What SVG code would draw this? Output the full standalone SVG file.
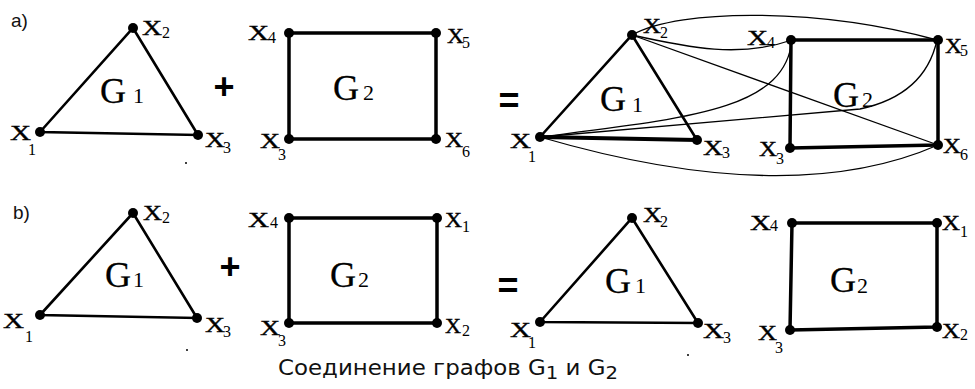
<svg xmlns="http://www.w3.org/2000/svg" width="975" height="389" viewBox="0 0 975 389">
<style>
.bg{fill:#fff}
.tri{stroke:#000;stroke-width:2.6;fill:none;stroke-linecap:round}
.rect{stroke:#000;stroke-width:3.5;fill:none;stroke-linejoin:round}
.thin{stroke:#000;stroke-width:1.3;fill:none}
.dot{fill:#000}
.X{font-family:"Liberation Serif","Times New Roman",serif;font-size:21px;fill:#000;stroke:#000;stroke-width:0.4}
.s{font-family:"Liberation Serif","Times New Roman",serif;font-size:16px;fill:#000}
.G{font-family:"Liberation Serif","Times New Roman",serif;font-size:36px;fill:#000;stroke:#000;stroke-width:0.3}
.Gs{font-family:"Liberation Serif","Times New Roman",serif;font-size:22px;fill:#000}
.op{font-family:"Liberation Sans",Arial,sans-serif;font-size:36px;font-weight:bold;fill:#000}
.lab{font-family:"Liberation Sans",Arial,sans-serif;font-size:19px;fill:#111}
.cap{font-family:"DejaVu Sans","Liberation Sans",sans-serif;font-size:21px;fill:#111}
</style>
<rect class="bg" x="0" y="0" width="975" height="389"/>

<g id="connectors">
  <path class="tri" d="M40,132 L133,28 L198,135 Z"/>
  <path class="rect" d="M289,33 L436,33 L436,139 L289,139 Z"/>
  <path class="tri" d="M540,137 L632,35 L697,140"/>
  <path class="tri" d="M540,137 L697,140" style="stroke-width:4"/>
  <path class="rect" d="M791,40 L938,40 L938,145 L790,148 Z"/>
  <path class="thin" d="M632,35 C680,8 820,8 937,40"/>
  <path class="thin" d="M632,35 C690,48 740,58 792,40"/>
  <path class="thin" d="M632,35 L938,145"/>
  <path class="thin" d="M540,137 C690,118 785,110 792,40"/>
  <path class="thin" d="M540,137 L860,109 Q925,95 937,40"/>
  <path class="thin" d="M540,137 Q790,210 938,145"/>
  <path class="tri" d="M40,315 L133,213 L197,318 Z"/>
  <path class="rect" d="M289,218 L437,218 L437,323 L289,323 Z"/>
  <path class="tri" d="M540,322 L632,218 L698,323 Z"/>
  <path class="rect" d="M792,223 L937,223 L937,327 L790,330 Z"/>
</g>

<text class="lab" x="11" y="27">a)</text>
<text class="lab" x="13" y="219">b)</text>

<g id="a1-x1"><circle class="dot" cx="40" cy="132" r="5"/><text class="X" x="10" y="140" textLength="21" lengthAdjust="spacingAndGlyphs">X</text><text class="s" x="28" y="155">1</text></g>
<g id="a1-x2"><circle class="dot" cx="133" cy="28" r="5"/><text class="X" x="142" y="35" textLength="20" lengthAdjust="spacingAndGlyphs">X</text><text class="s" x="162" y="38">2</text></g>
<g id="a1-x3"><circle class="dot" cx="198" cy="135" r="5"/><text class="X" x="205" y="147" textLength="20" lengthAdjust="spacingAndGlyphs">X</text><text class="s" x="223" y="153">3</text></g>
<g id="a1-G1"><text class="G" x="100" y="103">G</text><text class="Gs" x="133" y="103">1</text></g>
<text class="op" x="224" y="99" text-anchor="middle">+</text>
<g id="a2-x4"><circle class="dot" cx="289" cy="33" r="5"/><text class="X" x="248" y="40" textLength="21" lengthAdjust="spacingAndGlyphs">X</text><text class="s" x="268" y="43">4</text></g>
<g id="a2-x5"><circle class="dot" cx="436" cy="33" r="5"/><text class="X" x="447" y="43" textLength="17" lengthAdjust="spacingAndGlyphs">X</text><text class="s" x="462" y="48">5</text></g>
<g id="a2-x3"><circle class="dot" cx="289" cy="139" r="5"/><text class="X" x="260" y="148" textLength="20" lengthAdjust="spacingAndGlyphs">X</text><text class="s" x="278" y="160">3</text></g>
<g id="a2-x6"><circle class="dot" cx="436" cy="139" r="5"/><text class="X" x="445" y="147" textLength="18" lengthAdjust="spacingAndGlyphs">X</text><text class="s" x="462" y="157">6</text></g>
<g id="a2-G2"><text class="G" x="333" y="100">G</text><text class="Gs" x="363" y="100">2</text></g>
<circle class="dot" cx="186" cy="163" r="1"/>

<text class="op" x="509" y="113" text-anchor="middle">=</text>

<g id="a3-x1"><circle class="dot" cx="540" cy="137" r="5"/><text class="X" x="510" y="148" textLength="21" lengthAdjust="spacingAndGlyphs">X</text><text class="s" x="528" y="162">1</text></g>
<g id="a3-x2"><circle class="dot" cx="632" cy="35" r="5"/><text class="X" x="643" y="33" textLength="18" lengthAdjust="spacingAndGlyphs">X</text><text class="s" x="660" y="38">2</text></g>
<g id="a3-x3"><circle class="dot" cx="697" cy="140" r="5"/><text class="X" x="703" y="155" textLength="20" lengthAdjust="spacingAndGlyphs">X</text><text class="s" x="722" y="158">3</text></g>
<g id="a3-G1"><text class="G" x="600" y="111">G</text><text class="Gs" x="632" y="112">1</text></g>
<g id="a3-x4"><circle class="dot" cx="791" cy="40" r="5"/><text class="X" x="747" y="45" textLength="21" lengthAdjust="spacingAndGlyphs">X</text><text class="s" x="767" y="48">4</text></g>
<g id="a3-x5"><circle class="dot" cx="938" cy="40" r="5"/><text class="X" x="945" y="53" textLength="17" lengthAdjust="spacingAndGlyphs">X</text><text class="s" x="960" y="56">5</text></g>
<g id="a3-x3b"><circle class="dot" cx="790" cy="148" r="5"/><text class="X" x="759" y="156" textLength="18" lengthAdjust="spacingAndGlyphs">X</text><text class="s" x="776" y="164">3</text></g>
<g id="a3-x6"><circle class="dot" cx="938" cy="145" r="5"/><text class="X" x="943" y="153" textLength="18" lengthAdjust="spacingAndGlyphs">X</text><text class="s" x="960" y="160">6</text></g>
<g id="a3-G2"><text class="G" x="833" y="107">G</text><text class="Gs" x="862" y="107">2</text></g>

<g id="b1-x1"><circle class="dot" cx="40" cy="315" r="5"/><text class="X" x="3" y="328" textLength="21" lengthAdjust="spacingAndGlyphs">X</text><text class="s" x="25" y="342">1</text></g>
<g id="b1-x2"><circle class="dot" cx="133" cy="213" r="5"/><text class="X" x="143" y="220" textLength="19" lengthAdjust="spacingAndGlyphs">X</text><text class="s" x="162" y="223">2</text></g>
<g id="b1-x3"><circle class="dot" cx="197" cy="318" r="5"/><text class="X" x="205" y="332" textLength="20" lengthAdjust="spacingAndGlyphs">X</text><text class="s" x="223" y="337">3</text></g>
<g id="b1-G1"><text class="G" x="105" y="287">G</text><text class="Gs" x="133" y="287">1</text></g>
<text class="op" x="230" y="279" text-anchor="middle">+</text>
<g id="b2-x4"><circle class="dot" cx="289" cy="218" r="5"/><text class="X" x="248" y="227" textLength="21" lengthAdjust="spacingAndGlyphs">X</text><text class="s" x="270" y="228">4</text></g>
<g id="b2-x1"><circle class="dot" cx="437" cy="218" r="5"/><text class="X" x="445" y="227" textLength="17" lengthAdjust="spacingAndGlyphs">X</text><text class="s" x="462" y="232">1</text></g>
<g id="b2-x3"><circle class="dot" cx="289" cy="323" r="5"/><text class="X" x="260" y="335" textLength="20" lengthAdjust="spacingAndGlyphs">X</text><text class="s" x="278" y="346">3</text></g>
<g id="b2-x2"><circle class="dot" cx="437" cy="323" r="5"/><text class="X" x="445" y="333" textLength="16" lengthAdjust="spacingAndGlyphs">X</text><text class="s" x="462" y="336">2</text></g>
<g id="b2-G2"><text class="G" x="330" y="287">G</text><text class="Gs" x="358" y="287">2</text></g>
<circle class="dot" cx="187" cy="350" r="1"/>

<text class="op" x="508" y="298" text-anchor="middle">=</text>

<g id="b3-x1"><circle class="dot" cx="540" cy="322" r="5"/><text class="X" x="510" y="337" textLength="21" lengthAdjust="spacingAndGlyphs">X</text><text class="s" x="528" y="348">1</text></g>
<g id="b3-x2"><circle class="dot" cx="632" cy="218" r="5"/><text class="X" x="643" y="222" textLength="19" lengthAdjust="spacingAndGlyphs">X</text><text class="s" x="660" y="227">2</text></g>
<g id="b3-x3"><circle class="dot" cx="698" cy="323" r="5"/><text class="X" x="703" y="338" textLength="21" lengthAdjust="spacingAndGlyphs">X</text><text class="s" x="723" y="343">3</text></g>
<g id="b3-G1"><text class="G" x="605" y="293">G</text><text class="Gs" x="635" y="293">1</text></g>
<g id="b4-x4"><circle class="dot" cx="792" cy="223" r="5"/><text class="X" x="750" y="230" textLength="21" lengthAdjust="spacingAndGlyphs">X</text><text class="s" x="770" y="231">4</text></g>
<g id="b4-x1"><circle class="dot" cx="937" cy="223" r="5"/><text class="X" x="942" y="230" textLength="18" lengthAdjust="spacingAndGlyphs">X</text><text class="s" x="960" y="237">1</text></g>
<g id="b4-x3"><circle class="dot" cx="790" cy="330" r="5"/><text class="X" x="758" y="340" textLength="19" lengthAdjust="spacingAndGlyphs">X</text><text class="s" x="775" y="353">3</text></g>
<g id="b4-x2"><circle class="dot" cx="937" cy="327" r="5"/><text class="X" x="942" y="338" textLength="18" lengthAdjust="spacingAndGlyphs">X</text><text class="s" x="960" y="340">2</text></g>
<g id="b4-G2"><text class="G" x="830" y="292">G</text><text class="Gs" x="857" y="293">2</text></g>
<circle class="dot" cx="688" cy="355" r="1"/>

<text class="cap" x="278" y="375" textLength="340" lengthAdjust="spacingAndGlyphs">Соединение графов G<tspan dy="4" font-size="18">1</tspan><tspan dy="-4"> и G</tspan><tspan dy="4" font-size="18">2</tspan></text>
</svg>
